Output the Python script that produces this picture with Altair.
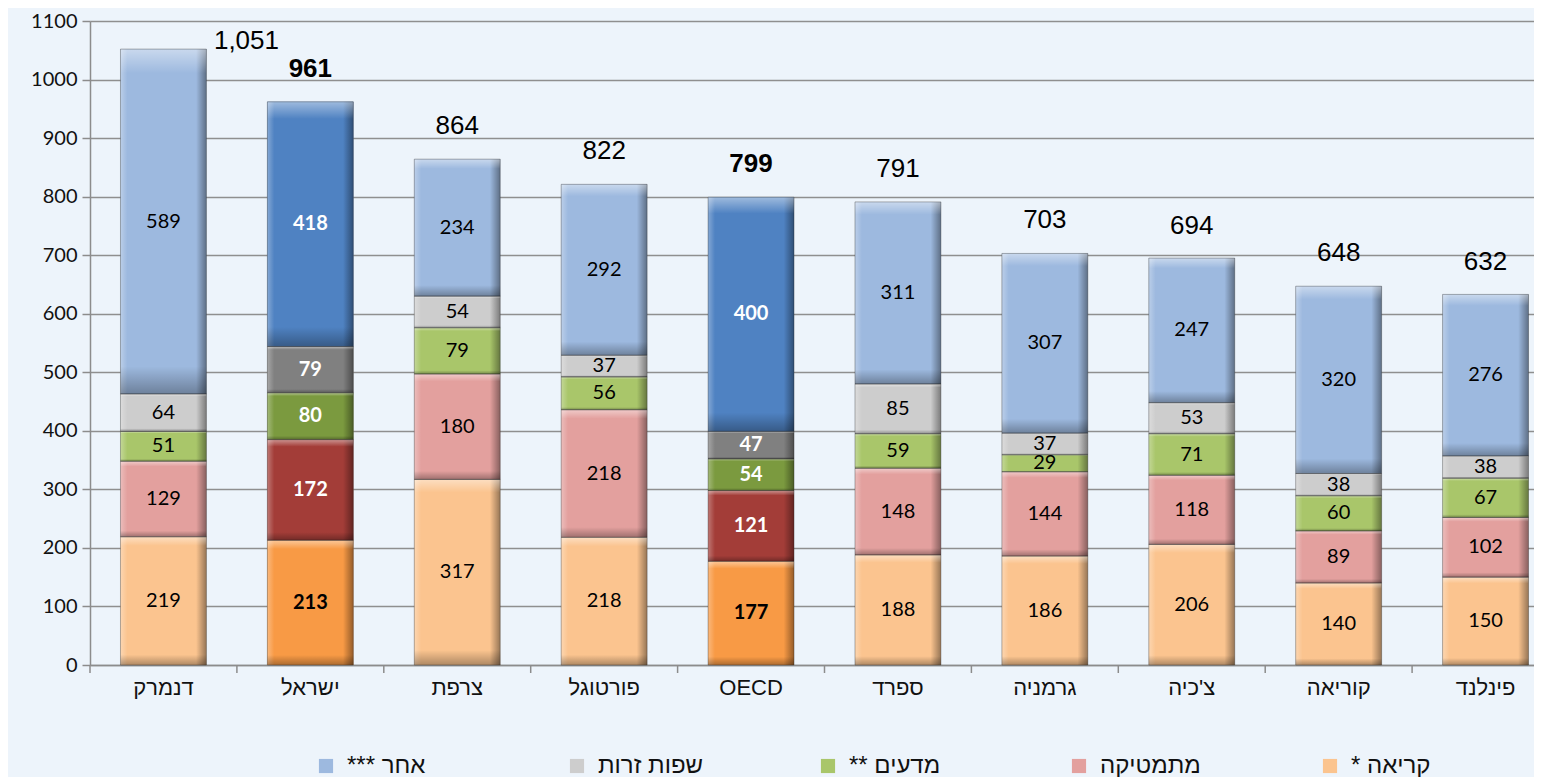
import altair as alt
import pandas as pd

# ---------------- data ----------------
countries = ["דנמרק", "ישראל", "צרפת", "פורטוגל", "OECD", "ספרד", "גרמניה", "צ'כיה", "קוריאה", "פינלנד"]
reading = [219, 213, 317, 218, 177, 188, 186, 206, 140, 150]
mathematics = [129, 172, 180, 218, 121, 148, 144, 118, 89, 102]
science = [51, 80, 79, 56, 54, 59, 29, 71, 60, 67]
languages = [64, 79, 54, 37, 47, 85, 37, 53, 38, 38]
other = [589, 418, 234, 292, 400, 311, 307, 247, 320, 276]
totals = [1051, 961, 864, 822, 799, 791, 703, 694, 648, 632]
highlighted = ["ישראל", "OECD"]

series_names = ["* קריאה", "מתמטיקה", "** מדעים", "שפות זרות", "*** אחר"]
series_values = [reading, mathematics, science, languages, other]

legend_order = ["*** אחר", "שפות זרות", "** מדעים", "מתמטיקה", "* קריאה"]
light_colors = {"* קריאה": "#FBC48F", "מתמטיקה": "#E3A09E", "** מדעים": "#A9C66A",
                "שפות זרות": "#CDCDCD", "*** אחר": "#9DB9DF"}
dark_colors = {"* קריאה": "#F89A45", "מתמטיקה": "#A33D38", "** מדעים": "#7B9A3F",
               "שפות זרות": "#808080", "*** אחר": "#4F82C2"}

rows = []
for si, (name, vals) in enumerate(zip(series_names, series_values)):
    for c, v in zip(countries, vals):
        rows.append({"cat": c, "series": name, "ord": si, "value": v, "hl": c in highlighted})
df = pd.DataFrame(rows)

tot_df = pd.DataFrame({"cat": countries, "total": totals,
                       "hl": [c in highlighted for c in countries]})

FONT = "Liberation Sans"
NUMFONT = "Lato"
W, H = 1444, 644
STEP_RANGE = [0, 1469]

xscale = alt.Scale(domain=countries, range=STEP_RANGE, paddingInner=0, paddingOuter=0)
x_enc = alt.X("cat:N", sort=countries, scale=xscale,
              axis=alt.Axis(title=None, ticks=False, labelAngle=0, labelFontSize=22,
                            labelFont=FONT, labelColor="#111", labelPadding=12,
                            domain=True, domainColor="#8c8c8c", domainWidth=1.5))
yscale = alt.Scale(domain=[0, 1100], nice=False)
y_axis = alt.Axis(title=None, values=list(range(0, 1101, 100)), format="d", labelFontSize=20,
                  labelFont=NUMFONT, labelColor="#111", tickSize=8, tickColor="#8c8c8c",
                  tickWidth=1.5, domainColor="#8c8c8c", domainWidth=1.5,
                  gridColor="#8f8f8f", gridWidth=1.3, labelPadding=5)

base = alt.Chart(df).transform_stack(
    stack="value", groupby=["cat"], as_=["v0", "v1"], sort=[alt.SortField("ord")]
).transform_calculate(mid="(datum.v0 + datum.v1) / 2")

barw = alt.RelativeBandSize(0.585)

bars_all = base.mark_bar(width=barw).encode(
    x=x_enc,
    y=alt.Y("v0:Q", scale=yscale, axis=y_axis),
    y2="v1:Q",
    color=alt.Color("series:N",
                    scale=alt.Scale(domain=legend_order, range=[light_colors[s] for s in legend_order]),
                    legend=alt.Legend(title=None, orient="none", legendX=224, legendY=733,
                                      direction="horizontal", columns=5, gridAlign="all",
                                      columnPadding=112, symbolType="square", symbolSize=200,
                                      symbolStrokeWidth=0, labelFontSize=24, labelFont=FONT,
                                      labelColor="#111", labelOffset=9, labelLimit=300)),
)

bars_hl = base.transform_filter("datum.hl").mark_bar(width=barw).encode(
    x=x_enc,
    y=alt.Y("v0:Q", scale=yscale, title=None),
    y2="v1:Q",
    color=alt.Color("series:N",
                    scale=alt.Scale(domain=legend_order, range=[dark_colors[s] for s in legend_order]),
                    legend=None),
)

hgrad = alt.LinearGradient(gradient="linear", x1=0, y1=0, x2=1, y2=0, stops=[
    alt.GradientStop(color="rgba(255,255,255,0.30)", offset=0),
    alt.GradientStop(color="rgba(255,255,255,0)", offset=0.08),
    alt.GradientStop(color="rgba(0,0,0,0)", offset=0.88),
    alt.GradientStop(color="rgba(0,0,0,0.40)", offset=1),
])
vgrad = alt.LinearGradient(gradient="linear", x1=0, y1=0, x2=0, y2=1, stops=[
    alt.GradientStop(color="rgba(255,255,255,0.45)", offset=0),
    alt.GradientStop(color="rgba(255,255,255,0)", offset=0.07),
    alt.GradientStop(color="rgba(0,0,0,0)", offset=0.92),
    alt.GradientStop(color="rgba(0,0,0,0.30)", offset=1),
])

shade_h = base.mark_bar(width=barw, color=hgrad).encode(
    x=x_enc, y=alt.Y("v0:Q", scale=yscale, title=None), y2="v1:Q")
shade_v = base.mark_bar(width=barw, color=vgrad, stroke="rgba(40,40,40,0.35)", strokeWidth=1).encode(
    x=x_enc, y=alt.Y("v0:Q", scale=yscale, title=None), y2="v1:Q")

txt_norm = base.transform_filter("!datum.hl").mark_text(
    fontSize=20, font=NUMFONT, color="#000", baseline="middle").encode(
    x=x_enc, y=alt.Y("mid:Q", scale=yscale, title=None), text="value:Q")

txt_hl = base.transform_filter("datum.hl").transform_calculate(
    tc="datum.ord == 0 ? 'black' : 'white'"
).mark_text(fontSize=20, font=NUMFONT, fontWeight="bold", baseline="middle").encode(
    x=x_enc, y=alt.Y("mid:Q", scale=yscale, title=None), text="value:Q",
    color=alt.Color("tc:N", scale=None))

tbase = alt.Chart(tot_df)
tot_norm = tbase.transform_filter("!datum.hl && datum.total < 1000").mark_text(
    fontSize=26, font=FONT, color="#000", dy=-33, baseline="middle").encode(
    x=x_enc, y=alt.Y("total:Q", scale=yscale, title=None), text=alt.Text("total:Q", format=","))
tot_hl = tbase.transform_filter("datum.hl").mark_text(
    fontSize=26, font=FONT, fontWeight="bold", color="#000", dy=-33, baseline="middle").encode(
    x=x_enc, y=alt.Y("total:Q", scale=yscale, title=None), text=alt.Text("total:Q", format=","))
tot_big = tbase.transform_filter("datum.total >= 1000").mark_text(
    fontSize=26, font=FONT, color="#000", dx=83, dy=-9, baseline="middle").encode(
    x=x_enc, y=alt.Y("total:Q", scale=yscale, title=None), text=alt.Text("total:Q", format=","))

ticks = alt.Chart(pd.DataFrame({"cat": countries})).mark_rule(color="#8c8c8c", strokeWidth=1.5).encode(
    x=alt.X("cat:N", sort=countries, scale=xscale, bandPosition=0),
    y=alt.value(H), y2=alt.value(H + 8))

chart = alt.layer(
    bars_all, bars_hl, shade_h, shade_v, txt_norm, txt_hl, tot_norm, tot_hl, tot_big, ticks
).resolve_scale(color="independent").properties(
    width=W, height=H,
    autosize=alt.AutoSizeParams(type="none"),
    padding={"left": 82, "top": 13, "right": 0, "bottom": 112},
    background="#edf4fb",
).configure_view(stroke=None)

chart.save("out.html", embed_options={"renderer": "svg", "actions": False})
